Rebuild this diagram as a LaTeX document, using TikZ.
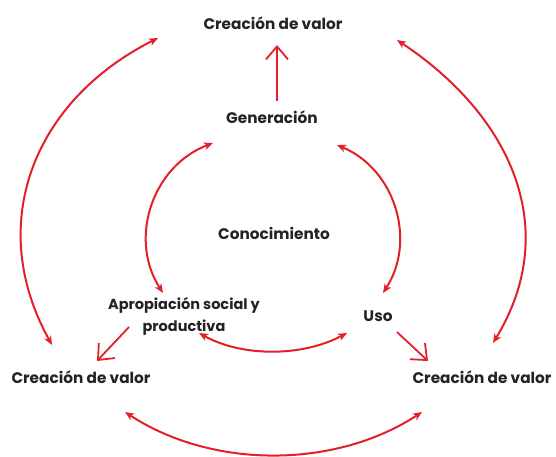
\documentclass[tikz,border=0pt]{standalone}
\usepackage{fontspec}
\setmainfont{Poppins}
\usetikzlibrary{arrows.meta}
\definecolor{arrred}{RGB}{226,32,42}
\definecolor{txt}{RGB}{35,35,35}
\begin{document}
\begin{tikzpicture}[x=1pt,y=-1pt,
  lbl/.style={font=\fontsize{15.3}{22}\selectfont\bfseries, text=txt, inner sep=0pt, align=center},
  arc/.style={draw=arrred, line width=2pt, {Stealth[length=9pt,width=7.5pt,inset=2.5pt]}-{Stealth[length=9pt,width=7.5pt,inset=2.5pt]}},
  single/.style={draw=arrred, line width=1.8pt, -{Straight Barb[length=13pt,width=22pt]}}]
\useasboundingbox (0,0) rectangle (556,457);
% labels
\node[lbl] (top) at (273,23) {Creación de valor};
\node[lbl] (gen) at (272,117) {Generación};
\node[lbl] (con) at (274,233) {Conocimiento};
\node[lbl, font=\fontsize{14.5}{22}\selectfont\bfseries] (apro) at (184,316) {Apropiación social y\\productiva};
\node[lbl] (uso) at (378,316) {Uso};
\node[lbl] (bl) at (81,377) {Creación de valor};
\node[lbl] (br) at (482,377) {Creación de valor};
% coordinates for arc ends
\coordinate (olA) at (158,38);  \coordinate (olB) at (52,345);
\coordinate (orA) at (397,40);  \coordinate (orB) at (493,343);
\coordinate (ilA) at (213,143); \coordinate (ilB) at (163,293);
\coordinate (irA) at (337,145); \coordinate (irB) at (383,293);
\coordinate (ibA) at (199,333); \coordinate (ibB) at (347,333);
\coordinate (obA) at (125,412); \coordinate (obB) at (422,412);
\coordinate (genT) at (277,101); \coordinate (topB) at (277,45);
\coordinate (aproS) at (129,327); \coordinate (blN) at (97,361);
\coordinate (usoS) at (397,332); \coordinate (brN) at (428,361);
% arcs
\draw[arc] (olA) .. controls (33,101) and (-15,224) .. (olB);
\draw[arc] (orA) .. controls (510,115) and (563,228) .. (orB);
\draw[arc] (ilA) .. controls (152.5,166) and (128,238.5) .. (ilB);
\draw[arc] (irA) .. controls (394.9,169.2) and (416.9,240.2) .. (irB);
\draw[arc] (ibA) .. controls (242,357) and (302,357) .. (ibB);
\draw[arc] (obA) .. controls (212,469) and (335,469) .. (obB);
% single arrows
\draw[single] (genT) -- (topB);
\draw[single] (aproS) -- (blN);
\draw[single] (usoS) -- (brN);
\end{tikzpicture}
\end{document}
